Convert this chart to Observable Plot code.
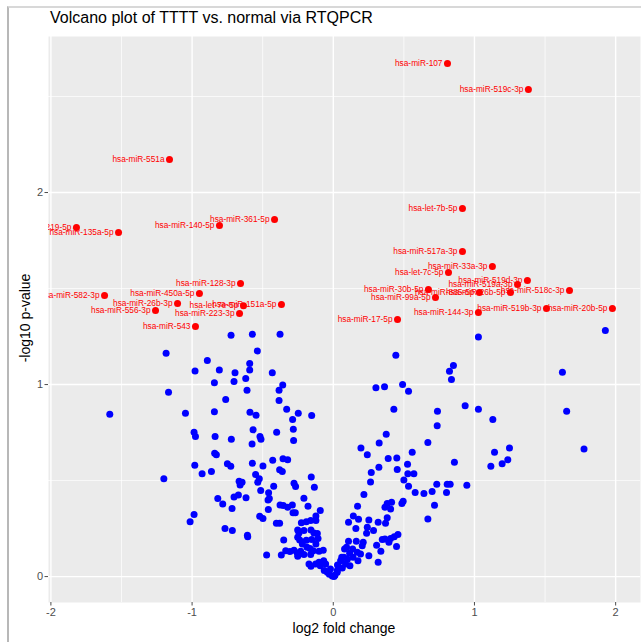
<!DOCTYPE html>
<html>
<head>
<meta charset="utf-8">
<script src="https://cdn.jsdelivr.net/npm/d3@7"></script>
<script src="https://cdn.jsdelivr.net/npm/@observablehq/plot@0.6"></script>
<style>
  body { margin: 0; background: #fff; font-family: "Liberation Sans", Arial, sans-serif; }
  #wrap { position: relative; width: 641px; height: 642px; overflow: hidden; background: #fff; }
  #border { position: absolute; left: 7px; top: 6px; width: 700px; height: 700px;
            border-left: 2px solid #b8b8b8; border-top: 2px solid #d8d8d8; }
  #title { position: absolute; left: 50px; top: 9px; font-size: 16px; color: #000; white-space: nowrap; }
  #ylab { position: absolute; left: 25px; top: 318px; font-size: 14px; color: #000;
          transform: translate(-50%, -50%) rotate(-90deg); white-space: nowrap; }
  #xlab { position: absolute; left: 344px; top: 628px; font-size: 14px; color: #000;
          transform: translate(-50%, -50%); white-space: nowrap; }
  #chart { position: absolute; left: 0; top: 0; }
</style>
</head>
<body>
<div id="wrap">
  <div id="border"></div>
  <div id="chart"></div>
  <div id="title">Volcano plot of TTTT vs. normal via RTQPCR</div>
  <div id="ylab">-log10 p-value</div>
  <div id="xlab">log2 fold change</div>
</div>
<script>
// Significant (red) miRNAs
const sigNames = [
  "hsa-miR-107","hsa-miR-519c-3p","hsa-miR-551a","hsa-miR-219-5p","hsa-miR-135a-5p",
  "hsa-miR-140-5p","hsa-miR-361-5p","hsa-let-7b-5p","hsa-miR-517a-3p","hsa-miR-33a-3p",
  "hsa-let-7c-5p","hsa-miR-519d-3p","hsa-miR-519a-3p","hsa-miR-518c-3p","hsa-miR-30b-5p",
  "hsa-miR-885-5p","hsa-miR-26b-5p","hsa-miR-99a-5p","hsa-miR-144-3p","hsa-miR-519b-3p",
  "hsa-miR-20b-5p","hsa-miR-17-5p","hsa-miR-128-3p","hsa-miR-582-3p","hsa-miR-450a-5p",
  "hsa-miR-26b-3p","hsa-miR-556-3p","hsa-let-7e-5p","hsa-miR-151a-5p","hsa-miR-223-3p",
  "hsa-miR-543"
];
const sigX = [
  0.809, 1.382, -1.160, -1.819, -1.521,
  -0.806, -0.416, 0.915, 0.915, 1.127,
  0.816, 1.375, 1.305, 1.673, 0.674,
  1.035, 1.255, 0.724, 1.028, 1.510,
  1.977, 0.455, -0.657, -1.620, -0.948,
  -1.103, -1.259, -0.636, -0.367, -0.664,
  -0.976
];
const sigY = [
  2.672, 2.536, 2.172, 1.818, 1.792,
  1.828, 1.859, 1.917, 1.693, 1.615,
  1.583, 1.542, 1.521, 1.490, 1.495,
  1.479, 1.479, 1.453, 1.375, 1.396,
  1.396, 1.339, 1.526, 1.464, 1.474,
  1.422, 1.385, 1.411, 1.417, 1.370,
  1.302
];

// Non-significant (blue) miRNAs, negative side
const nsXLeft = [
  -0.724,-0.573,-0.377,-0.538,-1.184,-0.892,-0.592,-0.979,-0.807,-0.696,
  -0.592,-0.432,-0.842,-0.703,-0.620,-0.358,-0.384,-0.611,-1.167,-0.762,
  -0.384,-0.330,-0.248,-0.153,-1.583,-1.047,-0.842,-0.590,-0.547,-0.288,
  -0.568,-0.283,-0.986,-0.976,-0.837,-0.722,-0.519,-0.512,-0.401,-0.281,
  -0.575,-0.840,-0.828,-0.429,-0.356,-0.323,-0.981,-0.750,-0.726,-0.573,
  -0.498,-0.380,-0.361,-0.156,-0.929,-0.863,-0.550,-1.200,-0.667,-0.646,
  -0.660,-0.524,-0.535,-0.422,-0.278,-0.267,-0.134,-0.514,-0.458,-0.818,
  -0.703,-0.672,-0.618,-0.453,-0.462,-0.377,-0.354,-0.290,-0.208,-0.179,
  -0.783,-0.717,-0.460,-0.323,-0.285,-0.269,-0.092,-0.521,-0.498,-0.123,
  -0.986,-1.014,-0.403,-0.380,-0.226,-0.191,-0.160,-0.123,-0.767,-0.715,
  -0.608,-0.606,-0.252,-0.243,-0.252,-0.208,-0.158,-0.137,-0.113,-0.238,
  -0.351,-0.191,-0.153,-0.108,-0.219,-0.186,-0.165,-0.123,-0.337,-0.307,
  -0.278,-0.255,-0.252,-0.231,-0.142,-0.101,-0.071,-0.472,-0.368,-0.208,
  -0.160,-0.172,-0.158,-0.125,-0.101,-0.068,-0.054,-0.092,-0.064,-0.042,
  -0.028,-0.007,0.012,0.028,0.040,0.052
];
const nsYLeft = [
  1.257,1.262,1.262,1.175,1.163,1.125,1.109,1.071,1.076,1.061,
  1.076,1.061,1.010,1.016,1.031,0.998,0.970,0.970,0.960,0.922,
  0.917,0.872,0.851,0.839,0.845,0.851,0.858,0.856,0.840,0.818,
  0.764,0.767,0.752,0.729,0.729,0.715,0.729,0.715,0.752,0.708,
  0.691,0.642,0.635,0.606,0.613,0.608,0.580,0.587,0.575,0.590,
  0.576,0.556,0.547,0.519,0.536,0.547,0.531,0.509,0.497,0.491,
  0.477,0.510,0.491,0.470,0.486,0.469,0.465,0.448,0.436,0.406,
  0.415,0.425,0.410,0.406,0.399,0.373,0.370,0.373,0.408,0.366,
  0.378,0.354,0.349,0.361,0.333,0.333,0.344,0.314,0.302,0.316,
  0.323,0.285,0.278,0.278,0.280,0.286,0.292,0.292,0.250,0.240,
  0.215,0.208,0.243,0.227,0.205,0.240,0.243,0.227,0.224,0.191,
  0.191,0.189,0.193,0.198,0.170,0.153,0.146,0.170,0.135,0.130,
  0.137,0.123,0.106,0.132,0.134,0.132,0.137,0.113,0.113,0.115,
  0.115,0.066,0.054,0.066,0.075,0.083,0.066,0.057,0.031,0.023,
  0.012,0.003,0.007,0.023,0.049,0.083
];

// Non-significant (blue) miRNAs, positive side
const nsXRight = [
  1.028,1.927,0.443,0.851,0.823,0.837,1.623,0.302,0.363,0.491,
  0.533,0.429,1.653,0.934,1.028,0.738,1.130,0.736,0.375,0.670,
  0.325,0.196,0.241,0.559,1.142,1.248,1.776,0.389,0.450,0.858,
  0.526,0.323,0.453,1.116,1.196,1.236,0.269,0.528,0.571,0.264,
  0.500,0.533,0.217,0.580,0.642,0.700,0.733,0.807,0.828,0.802,
  0.946,0.717,0.670,0.172,0.366,0.382,0.413,0.406,0.486,0.495,
  0.142,0.179,0.108,0.252,0.318,0.370,0.382,0.160,0.241,0.285,
  0.236,0.108,0.163,0.212,0.205,0.307,0.347,0.366,0.406,0.432,
  0.458,0.448,0.394,0.337,0.252,0.318,0.080,0.094,0.137,0.170,
  0.116,0.193,0.175,0.118,0.075,0.087,0.064,0.028,0.005,0.030,
  0.060,-0.020,0.100,0.140
];
const nsYRight = [
  1.247,1.281,1.153,1.099,1.069,1.026,1.064,0.983,0.988,1.000,
  0.965,0.872,0.861,0.889,0.872,0.861,0.818,0.785,0.741,0.698,
  0.696,0.670,0.635,0.648,0.648,0.670,0.665,0.615,0.618,0.595,
  0.585,0.569,0.557,0.575,0.587,0.608,0.542,0.536,0.536,0.493,
  0.503,0.470,0.427,0.438,0.432,0.443,0.481,0.481,0.481,0.438,
  0.476,0.372,0.300,0.366,0.361,0.380,0.387,0.352,0.380,0.392,
  0.316,0.299,0.283,0.295,0.283,0.278,0.306,0.250,0.257,0.240,
  0.226,0.184,0.184,0.179,0.160,0.163,0.193,0.196,0.198,0.208,
  0.219,0.156,0.179,0.132,0.109,0.075,0.144,0.153,0.144,0.127,
  0.122,0.118,0.083,0.057,0.101,0.066,0.045,0.031,0.000,0.060,
  0.100,0.040,0.090,0.100
];

const xMajor = [-2, -1, 0, 1, 2];
const xMinor = [-1.5, -0.5, 0.5, 1.5];
const yMajor = [0, 1, 2];
const yMinor = [0.5, 1.5, 2.5];

const blue = nsXLeft.map((x, i) => ({x, y: nsYLeft[i]}))
  .concat(nsXRight.map((x, i) => ({x, y: nsYRight[i]})));
const red = sigNames.map((name, i) => ({name, x: sigX[i], y: sigY[i]}));

const chart = Plot.plot({
  width: 641,
  height: 642,
  marginLeft: 48,
  marginRight: 1,
  marginTop: 36,
  marginBottom: 40,
  style: {background: "transparent", fontFamily: "'Liberation Sans', Arial, sans-serif"},
  x: {domain: [-2.017, 2.176], axis: null, label: null},
  y: {domain: [-0.135, 2.8125], axis: null, label: null},
  marks: [
    Plot.frame({fill: "#EBEBEB", stroke: "none"}),
    Plot.gridX(xMinor, {stroke: "#ffffff", strokeOpacity: 1, strokeWidth: 0.7}),
    Plot.gridY(yMinor, {stroke: "#ffffff", strokeOpacity: 1, strokeWidth: 0.7}),
    Plot.gridX(xMajor, {stroke: "#ffffff", strokeOpacity: 1, strokeWidth: 1.4}),
    Plot.gridY(yMajor, {stroke: "#ffffff", strokeOpacity: 1, strokeWidth: 1.4}),
    Plot.axisX(xMajor, {tickSize: 3.5, tickPadding: 2, fontSize: 11, color: "#4d4d4d",
      tickFormat: d => String(d), label: null}),
    Plot.axisY(yMajor, {tickSize: 3.5, tickPadding: 2, fontSize: 11, color: "#4d4d4d",
      tickFormat: d => String(d), label: null}),
    Plot.dot(blue, {x: "x", y: "y", r: 3.5, fill: "#0000ff", stroke: "none"}),
    Plot.dot(red, {x: "x", y: "y", r: 3.5, fill: "#ff0000", stroke: "none"}),
    Plot.text(red, {x: "x", y: "y", text: "name", textAnchor: "end", dx: -5,
      fontSize: 8.3, fill: "#ff0000", clip: true})
  ]
});
document.getElementById("chart").appendChild(chart);
</script>
</body>
</html>
